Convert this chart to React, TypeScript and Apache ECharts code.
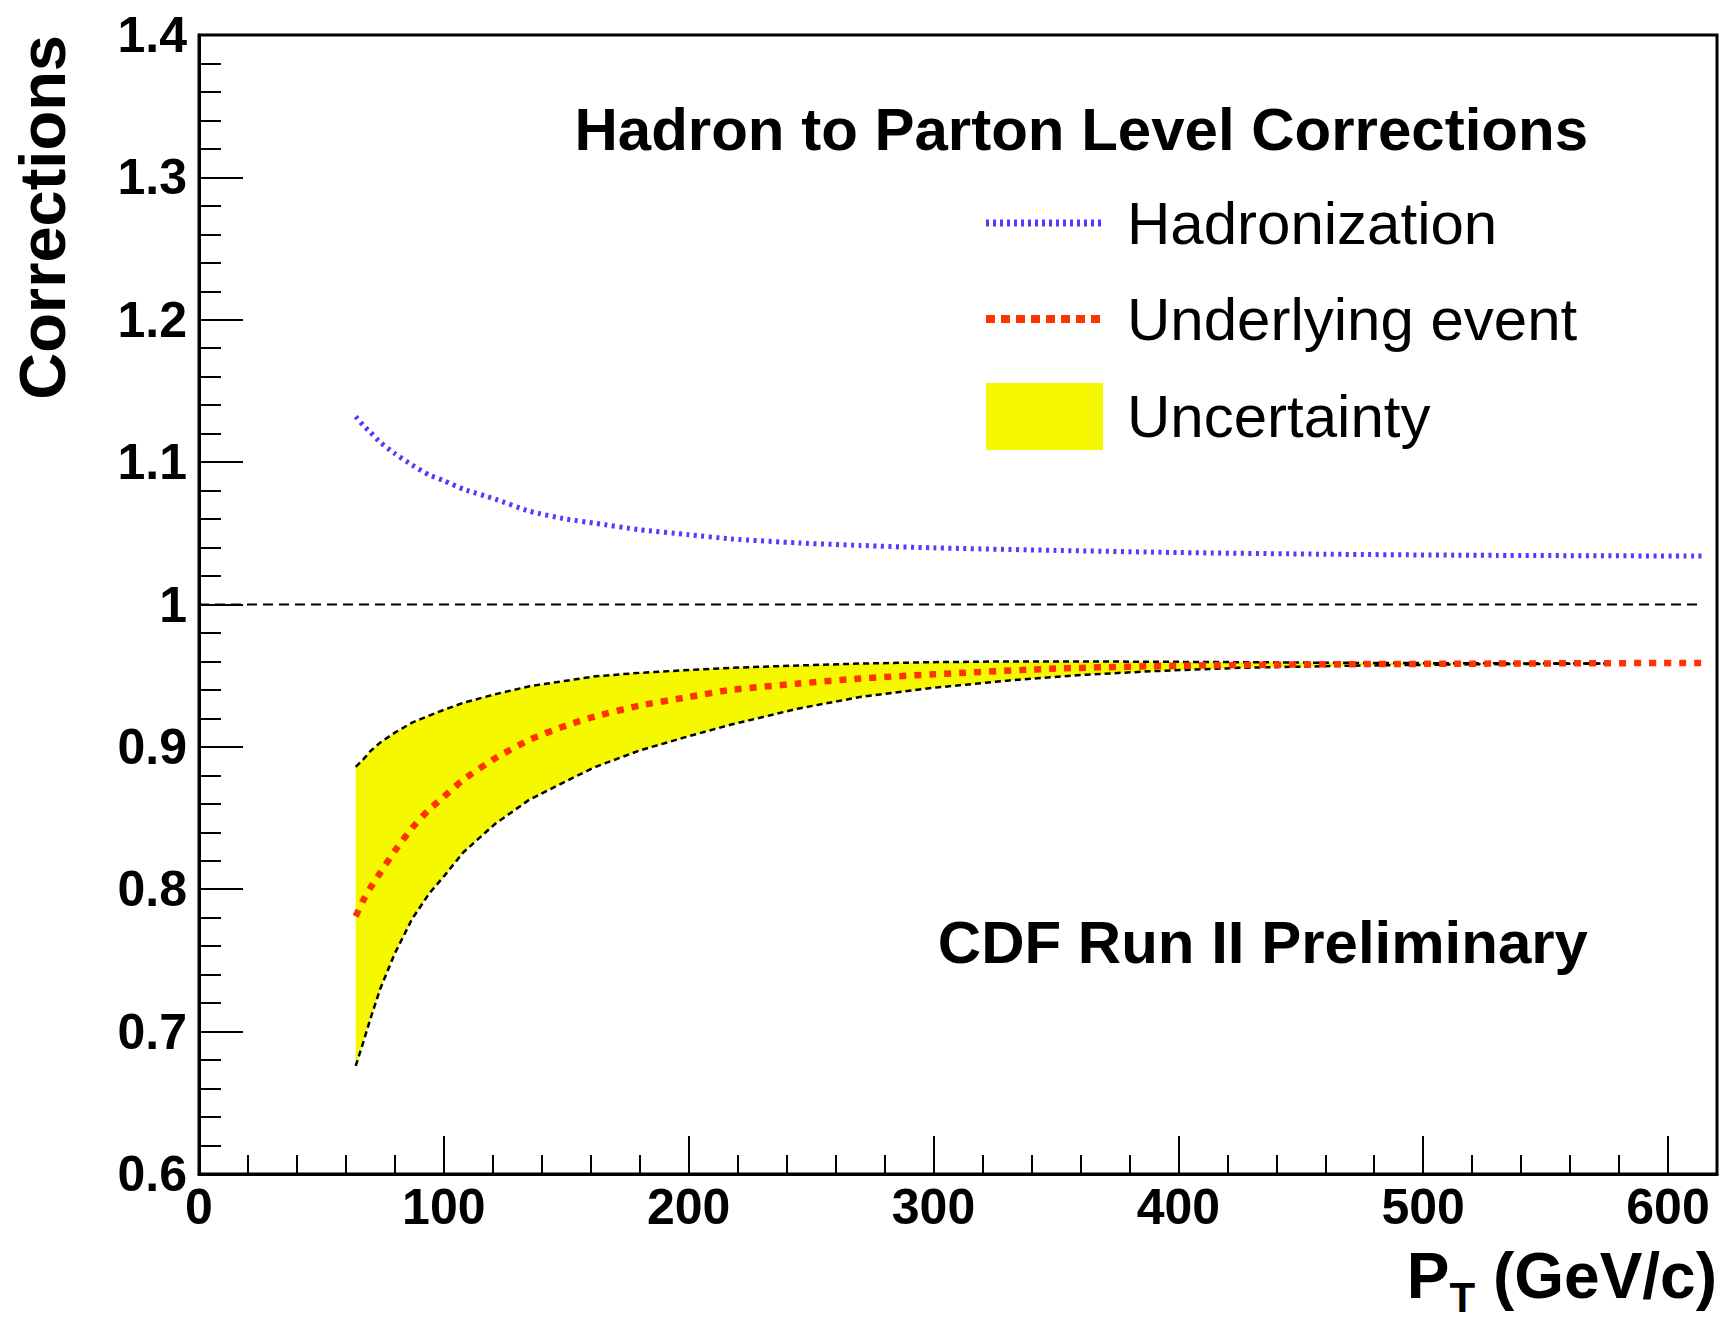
import React, { useEffect, useRef } from "react";
import * as echarts from "echarts";

// ---------- data ----------
const ptHad = [64, 67, 70, 74, 80, 87, 94, 100, 108, 121, 135, 150, 162, 180, 200, 217, 245, 270, 300, 350, 400, 460, 530, 614];
const hadronization = [1.132, 1.126, 1.121, 1.114, 1.106, 1.098, 1.091, 1.087, 1.081, 1.074, 1.0655, 1.06, 1.057, 1.0525, 1.049, 1.0461, 1.0432, 1.0415, 1.0398, 1.038, 1.0365, 1.0353, 1.0345, 1.034];

const ptUE = [64, 67, 70, 74, 80, 87, 94, 100, 108, 121, 135, 150, 162, 180, 200, 217, 245, 270, 300, 350, 400, 460, 530, 614];
const underlyingEvent = [0.781, 0.792, 0.801, 0.8115, 0.827, 0.843, 0.856, 0.865, 0.877, 0.892, 0.905, 0.915, 0.9215, 0.929, 0.935, 0.94, 0.9445, 0.948, 0.951, 0.955, 0.957, 0.958, 0.9585, 0.959];

const ptBand = [64, 67, 70, 74, 80, 87, 94, 100, 108, 121, 135, 150, 162, 180, 200, 217, 245, 270, 300, 330, 360, 390, 425, 470, 520, 575];
const bandUpper = [0.886, 0.891, 0.897, 0.903, 0.91, 0.917, 0.922, 0.926, 0.931, 0.937, 0.9426, 0.9465, 0.9496, 0.952, 0.954, 0.9555, 0.9572, 0.9585, 0.9595, 0.96, 0.96, 0.9598, 0.9595, 0.959, 0.9587, 0.9585];
const bandLower = [0.676, 0.692, 0.709, 0.73, 0.755, 0.779, 0.797, 0.809, 0.826, 0.846, 0.863, 0.876, 0.886, 0.8975, 0.9075, 0.9155, 0.927, 0.935, 0.9415, 0.9465, 0.9505, 0.9532, 0.9555, 0.957, 0.958, 0.9585];

const unityX = [0, 614];
const unityY = [1, 1];

const legendNames = ["Hadronization", "Underlying event", "Uncertainty"];
const titleText = "Hadron to Parton Level Corrections";
const runText = "CDF Run II Preliminary";
const yTitle = "Corrections";

// ---------- styling ----------
const FONT = '"Liberation Sans", Arial, Helvetica, sans-serif';
const BLUE = "#4f3cff";
const RED = "#ff3300";
const YELLOW = "#f6f800";

const zip = (xs: number[], ys: number[]) => xs.map((x, i) => [x, ys[i]]);

export default function App() {
  const ref = useRef<HTMLDivElement>(null);

  useEffect(() => {
    if (!ref.current) return;
    const chart = echarts.init(ref.current, undefined, { renderer: "svg" });

    const tickLabel = {
      color: "#000",
      fontSize: 50,
      fontWeight: "bold",
      fontFamily: FONT,
    };

    const option: any = {
      animation: false,
      backgroundColor: "#ffffff",
      grid: {
        left: 199,
        top: 35,
        width: 1518,
        height: 1139,
        show: true,
        borderColor: "#000",
        borderWidth: 3,
        backgroundColor: "transparent",
      },
      xAxis: [
        {
          type: "value",
          min: 0,
          max: 620,
          interval: 100,
          position: "bottom",
          axisLine: { show: true, onZero: false, lineStyle: { color: "#000", width: 3 } },
          axisTick: { show: true, inside: true, length: 38, lineStyle: { color: "#000", width: 2 } },
          axisLabel: {
            ...tickLabel,
            margin: 8,
            showMaxLabel: false,
            formatter: (v: number) => (Math.round(v) % 100 === 0 ? String(Math.round(v)) : ""),
          },
          splitLine: { show: false },
        },
        {
          type: "value",
          min: 0,
          max: 620,
          interval: 20,
          position: "bottom",
          axisLine: { show: false },
          axisTick: { show: true, inside: true, length: 19, lineStyle: { color: "#000", width: 2 } },
          axisLabel: { show: false },
          splitLine: { show: false },
        },
      ],
      yAxis: [
        {
          type: "value",
          min: 0.6,
          max: 1.4,
          interval: 0.1,
          axisLine: { show: true, onZero: false, lineStyle: { color: "#000", width: 3 } },
          axisTick: { show: true, inside: true, length: 44, lineStyle: { color: "#000", width: 2 } },
          minorTick: { show: true, splitNumber: 5, length: 22, lineStyle: { color: "#000", width: 2 } },
          axisLabel: {
            ...tickLabel,
            margin: 12,
            formatter: (v: number) => String(Number(v.toFixed(1))),
          },
          splitLine: { show: false },
          minorSplitLine: { show: false },
        },
      ],
      legend: {
        orient: "vertical",
        left: 982,
        top: 191,
        padding: 0,
        itemWidth: 117,
        itemHeight: 67,
        itemGap: 32,
        selectedMode: false,
        textStyle: {
          color: "#000",
          fontSize: 60,
          fontFamily: FONT,
          lineHeight: 64,
          padding: [0, 0, 0, 19],
        },
        data: [
          {
            name: legendNames[0],
            itemStyle: { opacity: 0 },
            lineStyle: { color: BLUE, width: 7, type: [3, 4], opacity: 1 },
          },
          {
            name: legendNames[1],
            itemStyle: { opacity: 0 },
            lineStyle: { color: RED, width: 8, type: [9, 6], opacity: 1 },
          },
          { name: legendNames[2], icon: "rect", itemStyle: { color: YELLOW } },
        ],
      },
      graphic: [
        {
          type: "text",
          x: 1588,
          y: 129,
          style: {
            text: titleText,
            fontSize: 60,
            fontWeight: "bold",
            fontFamily: FONT,
            fill: "#000",
            align: "right",
            verticalAlign: "middle",
          },
        },
        {
          type: "text",
          x: 1588,
          y: 942,
          style: {
            text: runText,
            fontSize: 60,
            fontWeight: "bold",
            fontFamily: FONT,
            fill: "#000",
            align: "right",
            verticalAlign: "middle",
          },
        },
        {
          type: "text",
          x: 42,
          y: 35,
          rotation: Math.PI / 2,
          style: {
            text: yTitle,
            fontSize: 65,
            fontWeight: "bold",
            fontFamily: FONT,
            fill: "#000",
            align: "right",
            verticalAlign: "middle",
          },
        },
        {
          type: "text",
          x: 1717,
          y: 1318,
          style: {
            text: "{p|P}{t|T}{p| (GeV/c)}",
            align: "right",
            verticalAlign: "bottom",
            fill: "#000",
            rich: {
              p: {
                fontSize: 64,
                fontWeight: "bold",
                fontFamily: FONT,
                lineHeight: 64,
                verticalAlign: "bottom",
                padding: [0, 0, 10, 0],
                fill: "#000",
              },
              t: {
                fontSize: 42,
                fontWeight: "bold",
                fontFamily: FONT,
                lineHeight: 42,
                verticalAlign: "bottom",
                fill: "#000",
              },
            },
          },
        },
      ],
      series: [
        {
          name: legendNames[2],
          type: "custom",
          silent: true,
          z: 1,
          itemStyle: { color: YELLOW },
          data: [[ptBand[0], bandLower[0]]],
          renderItem: (_params: any, api: any) => {
            const pts: number[][] = [];
            for (let i = 0; i < ptBand.length; i++) pts.push(api.coord([ptBand[i], bandUpper[i]]));
            for (let i = ptBand.length - 1; i >= 0; i--) pts.push(api.coord([ptBand[i], bandLower[i]]));
            return {
              type: "polygon",
              shape: { points: pts },
              style: { fill: YELLOW, stroke: "none" },
            };
          },
        },
        {
          name: "band upper",
          type: "line",
          data: zip(ptBand, bandUpper),
          symbol: "none",
          silent: true,
          z: 2,
          lineStyle: { color: "#000", width: 2.5, type: [6, 4] },
        },
        {
          name: "band lower",
          type: "line",
          data: zip(ptBand, bandLower),
          symbol: "none",
          silent: true,
          z: 2,
          lineStyle: { color: "#000", width: 2.5, type: [6, 4] },
        },
        {
          name: "unity",
          type: "line",
          data: zip(unityX, unityY),
          symbol: "none",
          silent: true,
          z: 2,
          lineStyle: { color: "#000", width: 2, type: [10, 6] },
        },
        {
          name: legendNames[1],
          type: "line",
          data: zip(ptUE, underlyingEvent),
          symbol: "none",
          smooth: 0.2,
          silent: true,
          z: 3,
          itemStyle: { color: RED },
          lineStyle: { color: RED, width: 6.5, type: [7, 8] },
        },
        {
          name: legendNames[0],
          type: "line",
          data: zip(ptHad, hadronization),
          symbol: "none",
          smooth: 0.2,
          silent: true,
          z: 3,
          itemStyle: { color: BLUE },
          lineStyle: { color: BLUE, width: 5, type: [3, 4.5] },
        },
      ],
    };

    chart.setOption(option);
    return () => chart.dispose();
  }, []);

  return (
    <div
      ref={ref}
      style={{ position: "fixed", left: 0, top: 0, width: 1734, height: 1319, background: "#fff" }}
    />
  );
}
